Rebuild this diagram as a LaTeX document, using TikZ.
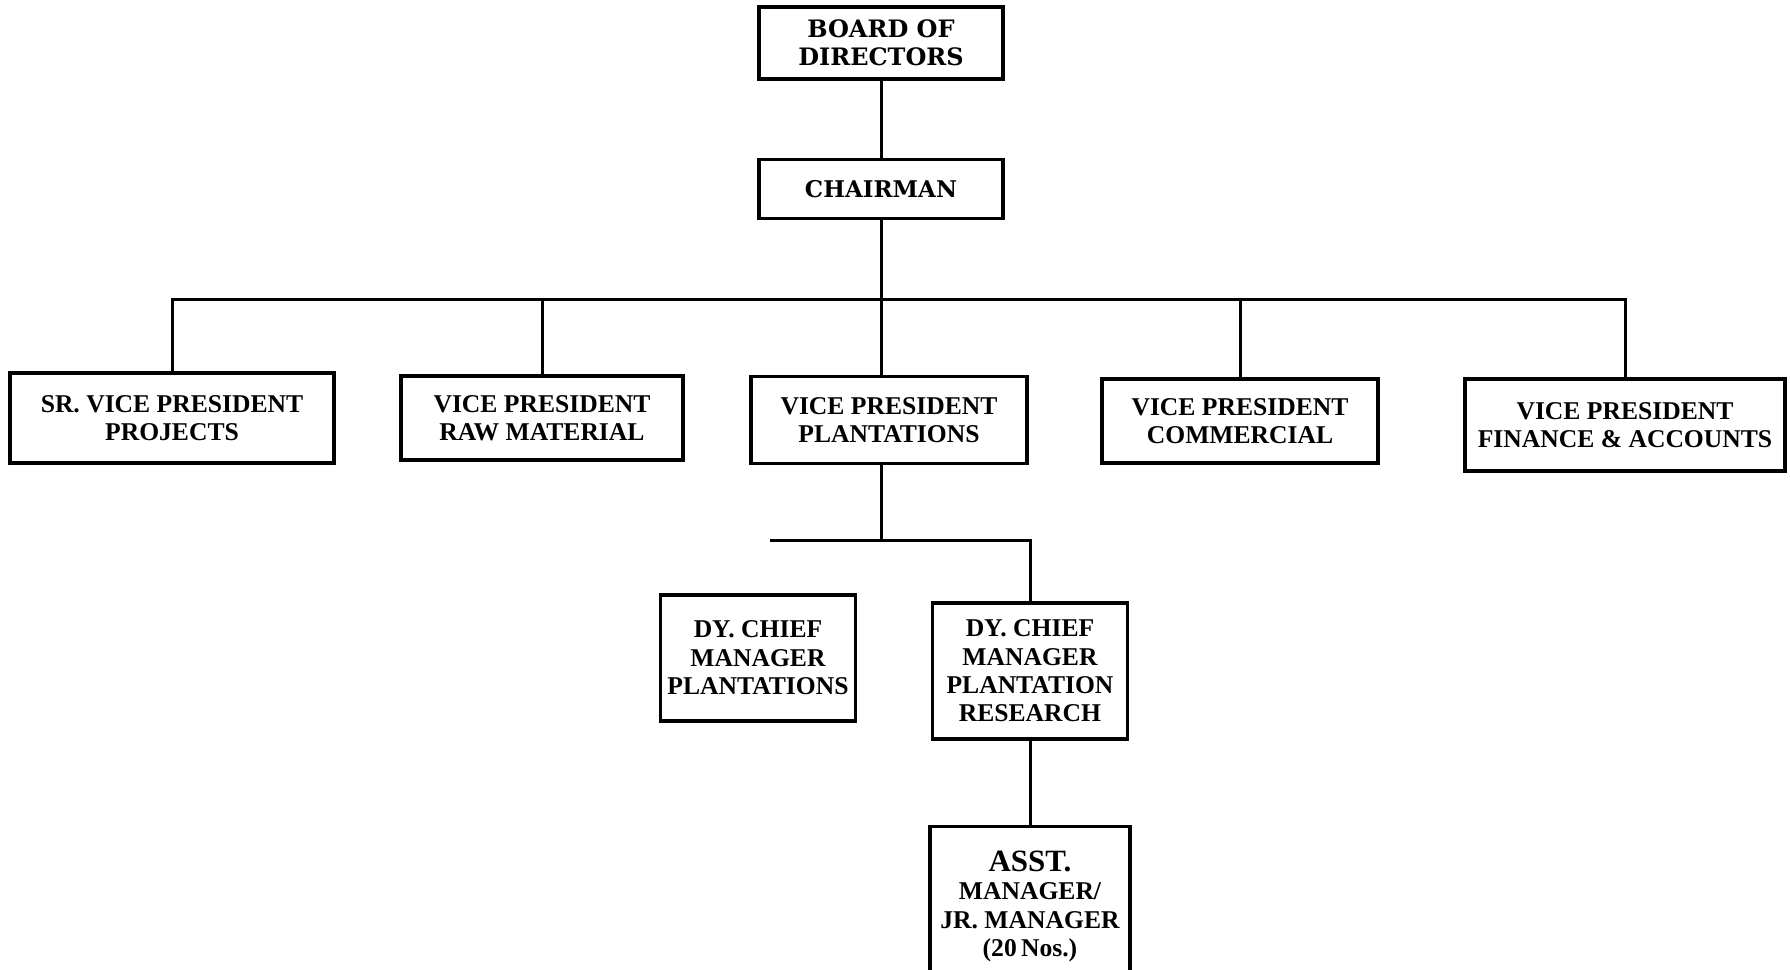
\documentclass[tikz,border=0pt]{standalone}
\usepackage{fontspec}
\setmainfont{Liberation Serif}
\newfontfamily\boardfont{DejaVu Serif}
\usetikzlibrary{positioning,calc}
\tikzset{line/.style={draw, line width=1.5pt}}

\begin{document}
\begin{tikzpicture}[x=0.5pt, y=-0.5pt]
\tikzstyle{rect} = [rectangle, draw, line width=1.6pt, align=center, inner sep=2pt, font=\bfseries\fontsize{12.8}{14.2}\selectfont]
\tikzstyle{top} = [rect, minimum width=122pt, font=\boardfont\bfseries\fontsize{11.5}{14}\selectfont]
\tikzstyle{vp} = [rect, minimum width=138pt, minimum height=42pt]
\tikzstyle{dy} = [rect, minimum width=97.5pt]

\useasboundingbox (0,0) rectangle (1790,970);
\clip (0,0) rectangle (1790,970);

% top
\node [top, minimum height=36pt, font=\boardfont\bfseries\fontsize{12}{14}\selectfont](board) at (881,43){BOARD OF\\DIRECTORS};
\node [top, minimum height=29.5pt](chair) at (881,189){CHAIRMAN};

% vice presidents
\node [vp, minimum width=162pt, minimum height=45pt](srvp) at (172,418){SR. VICE PRESIDENT\\PROJECTS};
\node [vp, minimum width=141pt](raw) at (542,418){VICE PRESIDENT\\RAW MATERIAL};
\node [vp, minimum height=43.5pt](plant) at (889,420){VICE PRESIDENT\\PLANTATIONS};
\node [vp](comm) at (1240,421){VICE PRESIDENT\\COMMERCIAL};
\node [vp, minimum width=160pt, minimum height=46pt](fin) at (1625,425){VICE PRESIDENT\\FINANCE \& ACCOUNTS};

% plantations
\node [dy, minimum height=63pt](dyp) at (758,658){DY. CHIEF\\MANAGER\\PLANTATIONS};
\node [dy, minimum height=68pt](dyr) at (1030,671){DY. CHIEF\\MANAGER\\PLANTATION\\RESEARCH};
\node [dy, minimum width=100pt, minimum height=80pt, anchor=north](asst) at (1030,825){{\fontsize{15.5}{17}\selectfont ASST.}\\MANAGER/\\JR. MANAGER\\(20\,Nos.)};

% lines
\coordinate (bar) at (881,299);
\coordinate (sub) at (881,540);
\coordinate (subl) at (770,540);
\draw [line] (board.south) -- (chair.north);
\draw [line] (chair.south) -- (bar);
\draw [line] (srvp.north) |- (bar);
\draw [line] (fin.north) |- (bar);
\draw [line] (raw.north) -- (raw.north |- bar);
\draw [line] (comm.north) -- (comm.north |- bar);
\draw [line] (bar) -- (bar |- plant.north);
\draw [line] (plant.south -| sub) -- (sub);
\draw [line] (subl) -- (sub) -| (dyr.north);
\draw [line] (dyr.south) -- (asst.north);

\end{tikzpicture}
\end{document}
